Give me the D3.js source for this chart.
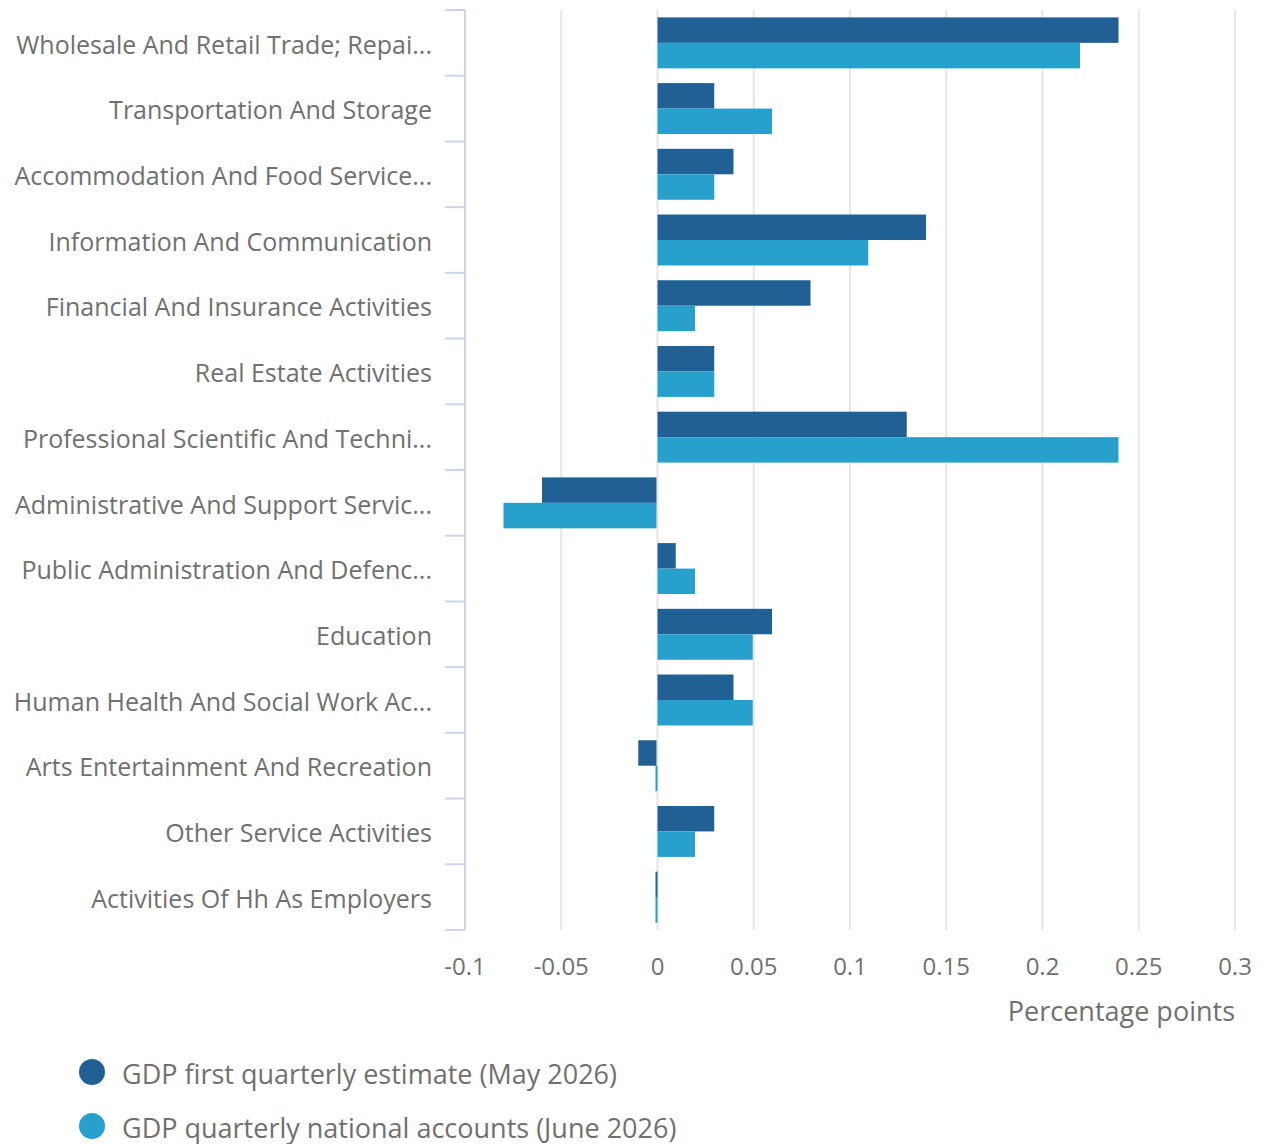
<!DOCTYPE html>
<html>
<head>
<meta charset="utf-8">
<script src="https://cdn.jsdelivr.net/npm/d3@7"></script>
<style>
  body { margin: 0; background: #fff; }
  text { font-family: "Open Sans", sans-serif; fill: #707070; }
</style>
</head>
<body>
<svg id="chart" width="1262" height="1144"></svg>
<script>
(function() {
    // categories as shown on the axis (already truncated in the source)
    const categories = [
        "Wholesale And Retail Trade; Repai...",
        "Transportation And Storage",
        "Accommodation And Food Service...",
        "Information And Communication",
        "Financial And Insurance Activities",
        "Real Estate Activities",
        "Professional Scientific And Techni...",
        "Administrative And Support Servic...",
        "Public Administration And Defenc...",
        "Education",
        "Human Health And Social Work Ac...",
        "Arts Entertainment And Recreation",
        "Other Service Activities",
        "Activities Of Hh As Employers"
    ];
    const mayEstimate = [0.24, 0.03, 0.04, 0.14, 0.08, 0.03, 0.13, -0.06, 0.01, 0.06, 0.04, -0.01, 0.03, 0];
    const juneAccounts = [0.22, 0.06, 0.03, 0.11, 0.02, 0.03, 0.24, -0.08, 0.02, 0.05, 0.05, 0, 0.02, 0];
    const seriesNames = ["GDP first quarterly estimate (May 2026)", "GDP quarterly national accounts (June 2026)"];
    const colors = ["#206095", "#27a0cc"];
    const xTicks = [-0.1, -0.05, 0, 0.05, 0.1, 0.15, 0.2, 0.25, 0.3];

    const svg = d3.select("#chart");
    const left = 465, right = 1235, top = 10, bottom = 930;

    const x = d3.scaleLinear().domain([-0.1, 0.3]).range([left, right]);
    const y = d3.scaleBand().domain(categories).range([top, bottom]);
    const inner = d3.scaleBand().domain([0, 1]).range([0, y.bandwidth()]).paddingOuter(0.29);

    // gridlines
    svg.append("g")
        .selectAll("line")
        .data(xTicks)
        .join("line")
        .attr("x1", d => x(d)).attr("x2", d => x(d))
        .attr("y1", top).attr("y2", bottom)
        .attr("stroke", "#e6e6e6")
        .attr("stroke-width", 2);

    // bars (zero values get a 2px stub, like the source)
    const series = [mayEstimate, juneAccounts];
    const minLen = 2;
    series.forEach((vals, si) => {
        svg.append("g")
            .selectAll("rect")
            .data(vals)
            .join("rect")
            .attr("x", d => {
                const w = Math.abs(x(d) - x(0));
                if (w < minLen) return x(0) - minLen;
                return Math.min(x(d), x(0));
            })
            .attr("width", d => Math.max(minLen, Math.abs(x(d) - x(0)) - 1))
            .attr("y", (d, i) => y(categories[i]) + inner(si))
            .attr("height", inner.bandwidth())
            .attr("fill", colors[si]);
    });

    // category axis
    const axisColor = "#ccd6eb";
    svg.append("line")
        .attr("x1", left).attr("x2", left)
        .attr("y1", top).attr("y2", bottom)
        .attr("stroke", axisColor).attr("stroke-width", 2);
    const bounds = categories.map(c => y(c)).concat([bottom]);
    svg.append("g")
        .selectAll("line")
        .data(bounds)
        .join("line")
        .attr("x1", left - 20).attr("x2", left)
        .attr("y1", d => d).attr("y2", d => d)
        .attr("stroke", axisColor).attr("stroke-width", 2);

    svg.append("g")
        .selectAll("text")
        .data(categories)
        .join("text")
        .attr("x", 432)
        .attr("y", d => y(d) + y.bandwidth() / 2 + 2)
        .attr("dy", "0.35em")
        .attr("text-anchor", "end")
        .attr("font-size", 25)
        .text(d => d);

    // value axis labels
    svg.append("g")
        .selectAll("text")
        .data(xTicks)
        .join("text")
        .attr("x", d => x(d))
        .attr("y", 975)
        .attr("text-anchor", "middle")
        .attr("font-size", 24)
        .text(d => String(d));

    svg.append("text")
        .attr("x", right)
        .attr("y", 1021)
        .attr("text-anchor", "end")
        .attr("font-size", 27)
        .text("Percentage points");

    // legend
    const legend = svg.append("g")
        .selectAll("g")
        .data(seriesNames)
        .join("g")
        .attr("transform", (d, i) => `translate(92, ${1072 + i * 54})`);
    legend.append("circle")
        .attr("r", 13)
        .attr("fill", (d, i) => colors[i]);
    legend.append("text")
        .attr("x", 30)
        .attr("y", 3)
        .attr("dy", "0.35em")
        .attr("font-size", 27)
        .text(d => d);
})();
</script>
</body>
</html>
